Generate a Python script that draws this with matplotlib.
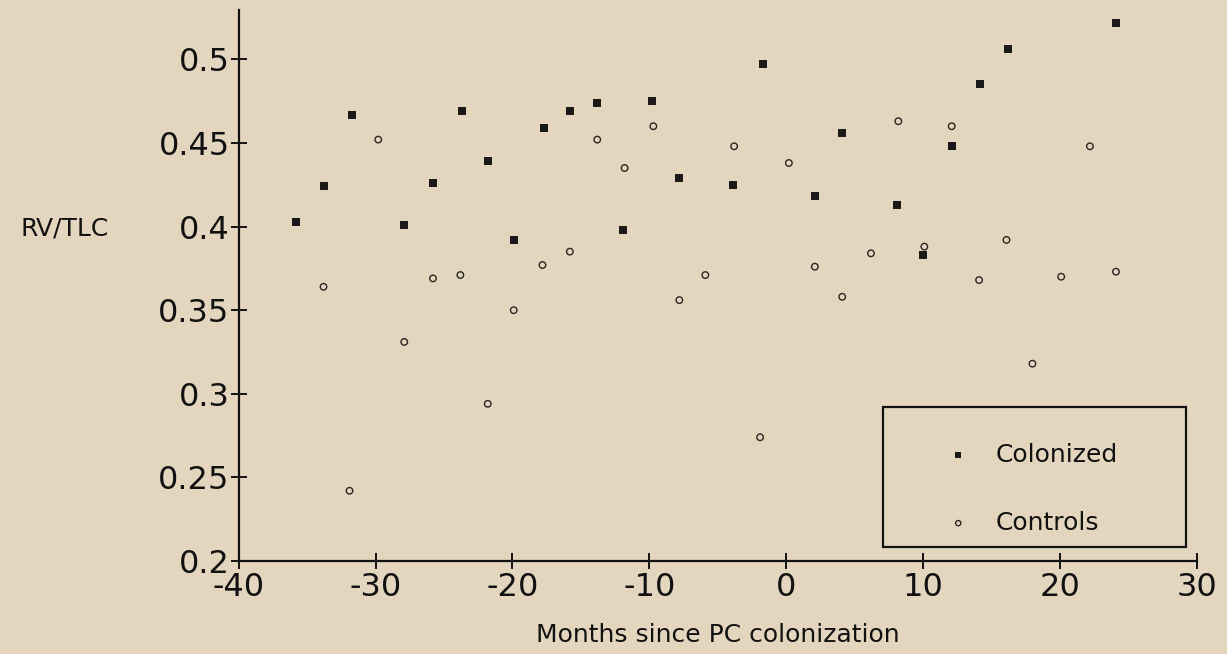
import matplotlib
matplotlib.use("Agg")
import matplotlib.pyplot as plt
from matplotlib.patches import Rectangle

# RV/TLC vs months since PC colonization
colonized_x = [-35.8, -33.8, -31.7, -27.9, -25.8, -23.7, -21.8, -19.9, -17.7, -15.8,
               -13.8, -11.9, -9.8, -7.8, -3.9, -1.7, 2.1, 4.1, 8.1, 10.0,
               12.1, 14.2, 16.2, 24.1]
colonized_y = [0.403, 0.424, 0.467, 0.401, 0.426, 0.469, 0.439, 0.392, 0.459, 0.469,
               0.474, 0.398, 0.475, 0.429, 0.425, 0.497, 0.418, 0.456, 0.413, 0.383,
               0.448, 0.485, 0.506, 0.522]

controls_x = [-33.8, -31.9, -29.8, -27.9, -25.8, -23.8, -21.8, -19.9, -17.8, -15.8,
              -13.8, -11.8, -9.7, -7.8, -5.9, -3.8, -1.9, 0.2, 2.1, 4.1,
              6.2, 8.2, 10.1, 12.1, 14.1, 16.1, 18.0, 20.1, 22.2, 24.1]
controls_y = [0.364, 0.242, 0.452, 0.331, 0.369, 0.371, 0.294, 0.350, 0.377, 0.385,
              0.452, 0.435, 0.460, 0.356, 0.371, 0.448, 0.274, 0.438, 0.376, 0.358,
              0.384, 0.463, 0.388, 0.460, 0.368, 0.392, 0.318, 0.370, 0.448, 0.373]

x_ticks = [-40, -30, -20, -10, 0, 10, 20, 30]
y_ticks = [0.2, 0.25, 0.3, 0.35, 0.4, 0.45, 0.5]
y_tick_labels = ['0.2', '0.25', '0.3', '0.35', '0.4', '0.45', '0.5']

bg = '#e4d5be'
ink = '#111111'
plt.rcParams['font.family'] = ['DejaVu Sans']
plt.rcParams['axes.unicode_minus'] = False

fig = plt.figure(figsize=(12.27, 6.54), dpi=100, facecolor=bg)
ax = fig.add_axes([0.1945, 0.1422, 0.7808, 0.8425])
ax.set_facecolor(bg)

ax.scatter(colonized_x, colonized_y, marker='s', s=32, color='#1c1a18',
           linewidths=0, label='Colonized', zorder=3)
ax.scatter(controls_x, controls_y, marker='o', s=22, facecolors='none',
           edgecolors='#2a2622', linewidths=1.0, label='Controls', zorder=3)

ax.set_xlim(-40, 30)
ax.set_ylim(0.2, 0.5295)
ax.set_xticks(x_ticks)
ax.set_yticks(y_ticks)
ax.set_yticklabels(y_tick_labels)

for side in ['top', 'right']:
    ax.spines[side].set_visible(False)
for side in ['left', 'bottom']:
    ax.spines[side].set_linewidth(1.6)
    ax.spines[side].set_color(ink)

ax.tick_params(axis='both', direction='inout', length=12, width=1.4,
               colors=ink, labelsize=23)
ax.tick_params(axis='x', pad=2)
ax.tick_params(axis='y', pad=0.5)

ax.set_xlabel('Months since PC colonization', fontsize=18, color=ink, va='top')
ax.xaxis.set_label_coords(0.5, -0.112)
ax.set_ylabel('RV/TLC', fontsize=18, rotation=0, color=ink,
              ha='center', va='center')
ax.yaxis.set_label_coords(-0.1815, 0.604)

# legend box
frame = Rectangle((0.673, 0.026), 0.316, 0.254, transform=ax.transAxes,
                  fill=False, edgecolor=ink, linewidth=1.6, zorder=4)
ax.add_patch(frame)
leg = ax.legend(loc='center left', bbox_to_anchor=(0.725, 0.131), frameon=False,
                fontsize=18, labelspacing=1.75, handletextpad=1.0, borderpad=0,
                handlelength=1.0, markerscale=0.8)
for t in leg.get_texts():
    t.set_color(ink)

fig.savefig('out.png', dpi=100, facecolor=bg)
